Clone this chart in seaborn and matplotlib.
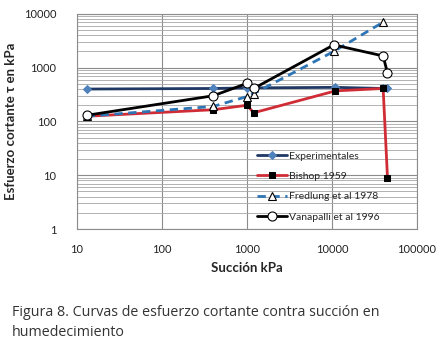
import numpy as np
import pandas as pd
import seaborn as sns
import matplotlib.pyplot as plt
from matplotlib.ticker import LogLocator, FixedLocator, NullFormatter

sns.set_style('white')
plt.rcParams['font.family'] = ['Lato', 'DejaVu Sans']

# Curvas de esfuerzo cortante vs succion (humedecimiento)
suc_exp = [13, 400, 1000, 11000, 40000, 45000]
tau_exp = [400, 410, 420, 430, 410, 420]

suc_bishop = [13, 400, 1000, 1200, 11000, 40000, 45000]
tau_bishop = [125, 165, 200, 145, 370, 410, 9]

suc_fred = [13, 400, 1000, 1200, 10500, 40000]
tau_fred = [125, 190, 290, 330, 2000, 7000]

suc_vana = [13, 400, 1000, 1200, 10500, 40000, 45000]
tau_vana = [130, 300, 510, 410, 2650, 1650, 790]

fig = plt.figure(figsize=(4.45, 3.46), dpi=100)
ax = fig.add_axes([0.173, 0.338, 0.764, 0.622])

sns.lineplot(x=suc_exp, y=tau_exp, ax=ax, sort=False, color='#1F3864', lw=2,
             marker='D', markersize=4.5, markerfacecolor='#4F81BD',
             markeredgecolor='#4F81BD', label='Experimentales')
sns.lineplot(x=suc_bishop, y=tau_bishop, ax=ax, sort=False, color='#D02C35', lw=2,
             marker='s', markersize=5, markerfacecolor='black',
             markeredgecolor='black', label='Bishop 1959')
sns.lineplot(x=suc_fred, y=tau_fred, ax=ax, sort=False, color='#2E75B6', lw=2,
             linestyle=(0, (3, 2)), marker='^', markersize=5.5,
             markerfacecolor='white', markeredgecolor='black', markeredgewidth=0.8,
             label='Fredlung et al 1978')
sns.lineplot(x=suc_vana, y=tau_vana, ax=ax, sort=False, color='black', lw=2,
             marker='o', markersize=6.5, markerfacecolor='white',
             markeredgecolor='black', markeredgewidth=0.8,
             label='Vanapalli et al 1996')

ax.set_xscale('log')
ax.set_yscale('log')
ax.set_xlim(10, 100000)
ax.set_ylim(1, 10000)

ax.xaxis.set_major_locator(FixedLocator([10, 100, 1000, 10000, 100000]))
ax.xaxis.set_minor_locator(FixedLocator([]))
ax.set_xticklabels(['10', '100', '1000', '10000', '100000'])
ax.yaxis.set_major_locator(FixedLocator([1, 10, 100, 1000, 10000]))
ax.yaxis.set_minor_locator(LogLocator(base=10, subs=np.arange(2, 10)))
ax.yaxis.set_minor_formatter(NullFormatter())
ax.set_yticklabels(['1', '10', '100', '1000', '10000'])

ax.grid(True, which='major', axis='both', color='#8c8c8c', lw=0.8)
ax.grid(True, which='minor', axis='y', color='#a6a6a6', lw=0.6)
ax.set_axisbelow(True)
for s in ax.spines.values():
    s.set_color('#8c8c8c')
    s.set_linewidth(0.8)
ax.tick_params(which='both', length=0, labelsize=8, colors='#222222', pad=11)
ax.tick_params(axis='y', pad=15)

ax.set_xlabel('Succión kPa', fontsize=9.5, fontweight='bold', labelpad=5)
ax.set_ylabel('Esfuerzo cortante τ en kPa', fontsize=9.5, fontweight='bold', labelpad=5)

leg = ax.legend(loc='upper left', bbox_to_anchor=(0.53, 0.36), frameon=False,
                fontsize=7.5, handlelength=2.9, handletextpad=0.15,
                labelspacing=1.05, borderaxespad=0, borderpad=0)

fig.text(0.027, 0.018, 'Figura 8. Curvas de esfuerzo cortante contra succión en\nhumedecimiento',
         fontsize=10.3, color='#333333', linespacing=1.4, va='bottom',
         family=['Open Sans', 'DejaVu Sans'])

fig.savefig('out.png', dpi=100)
